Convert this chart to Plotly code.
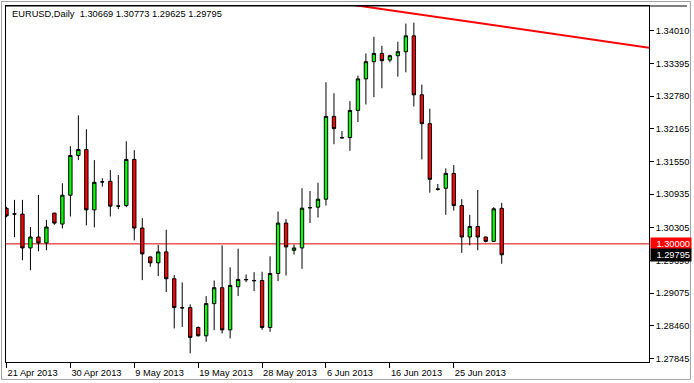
import plotly.graph_objects as go

# ---- data ----
dates = ["21 Apr 2013", "30 Apr 2013", "9 May 2013", "19 May 2013",
         "28 May 2013", "6 Jun 2013", "16 Jun 2013", "25 Jun 2013"]
date_pos = [0, 8, 16, 24, 32, 40, 48, 56]

opens = [1.30668, 1.30566, 1.30560, 1.29923, 1.30129, 1.30017, 1.30579, 1.30373,
         1.30916, 1.31664, 1.31777, 1.30640, 1.31170, 1.31178, 1.30715, 1.30721,
         1.31590, 1.30298, 1.29755, 1.29643, 1.29849, 1.29343, 1.28800, 1.28800,
         1.28426, 1.28269, 1.28875, 1.29175, 1.28381, 1.29193, 1.29330, 1.29311,
         1.29311, 1.28426, 1.29442, 1.30391, 1.29879, 1.29923, 1.30684, 1.30691,
         1.30841, 1.32400, 1.32001, 1.32001, 1.32512, 1.33106, 1.33430, 1.33585,
         1.33461, 1.33542, 1.33617, 1.33916, 1.32806, 1.32263, 1.31034, 1.31047,
         1.31327, 1.30721, 1.30129, 1.30328, 1.30129, 1.30047, 1.30669]
highs = [1.30697, 1.30828, 1.30828, 1.30317, 1.30921, 1.30453, 1.30585, 1.31140,
         1.31839, 1.32419, 1.32157, 1.31576, 1.31234, 1.31389, 1.31296, 1.31932,
         1.31764, 1.30485, 1.29760, 1.29980, 1.30266, 1.29411, 1.29274, 1.28862,
         1.28445, 1.29017, 1.29311, 1.29972, 1.29560, 1.29910, 1.29424, 1.29467,
         1.29474, 1.29766, 1.30609, 1.30466, 1.29985, 1.31047, 1.30996, 1.31151,
         1.33042, 1.32836, 1.32125, 1.32687, 1.33168, 1.33585, 1.33898, 1.33729,
         1.33561, 1.33804, 1.34147, 1.34165, 1.32999, 1.32544, 1.31127, 1.31421,
         1.31483, 1.30841, 1.30547, 1.31015, 1.30135, 1.30691, 1.30773]
lows = [1.30500, 1.30126, 1.29691, 1.29504, 1.29860, 1.29879, 1.30360, 1.30290,
        1.30515, 1.31576, 1.30347, 1.30309, 1.31077, 1.30515, 1.30653, 1.30691,
        1.30066, 1.29317, 1.29568, 1.29392, 1.29092, 1.28407, 1.28437, 1.27939,
        1.28257, 1.28156, 1.28375, 1.28314, 1.28220, 1.29017, 1.29280, 1.29111,
        1.28381, 1.28344, 1.29298, 1.29405, 1.29798, 1.29530, 1.30391, 1.30496,
        1.30721, 1.31876, 1.31983, 1.31751, 1.32293, 1.32625, 1.32761, 1.32930,
        1.33417, 1.33149, 1.33229, 1.32587, 1.31590, 1.30964, 1.31002, 1.30547,
        1.30627, 1.29830, 1.29972, 1.29879, 1.30028, 1.30036, 1.29625]
closes = [1.30528, 1.30560, 1.29923, 1.30129, 1.30017, 1.30317, 1.30391, 1.30916,
          1.31664, 1.31777, 1.30640, 1.31159, 1.31165, 1.30710, 1.30710, 1.31590,
          1.30298, 1.29811, 1.29643, 1.29849, 1.29343, 1.28800, 1.28795, 1.28239,
          1.28269, 1.28875, 1.29175, 1.28381, 1.29218, 1.29330, 1.29325, 1.29306,
          1.28426, 1.29442, 1.30391, 1.29942, 1.29923, 1.30672, 1.30679, 1.30841,
          1.32400, 1.32170, 1.31996, 1.32512, 1.33106, 1.33430, 1.33585, 1.33448,
          1.33542, 1.33617, 1.33916, 1.32806, 1.32263, 1.31215, 1.31029, 1.31327,
          1.30721, 1.30129, 1.30328, 1.30129, 1.30047, 1.30660, 1.29795]
bar_index = list(range(len(opens)))

y_ticks = [1.34010, 1.33395, 1.32780, 1.32165, 1.31550, 1.30935,
           1.30305, 1.29690, 1.29075, 1.28460, 1.27845]
y_ticktext = ["%.5f" % v for v in y_ticks]

level_price = 1.30000
bid_price = 1.29795
trend_x = [40, 82]
trend_y = [1.34572, 1.33659]

title_text = "EURUSD,Daily  1.30669 1.30773 1.29625 1.29795"

FONT = "Liberation Sans, Arial, sans-serif"
FS = 9.3

fig = go.Figure()
fig.add_trace(go.Candlestick(
    x=bar_index, open=opens, high=highs, low=lows, close=closes,
    increasing=dict(line=dict(color="black", width=1), fillcolor="#00ff00"),
    decreasing=dict(line=dict(color="black", width=1), fillcolor="#ff0000"),
    whiskerwidth=0, showlegend=False, hoverinfo="skip",
))
fig.add_trace(go.Scatter(
    x=trend_x, y=trend_y, mode="lines",
    line=dict(color="#ff0000", width=2), showlegend=False, hoverinfo="skip",
))

W, H = 694, 383
ML, MR, MT, MB = 5, 45, 5, 20
pw, ph = W - ML - MR, H - MT - MB


def px_x(p):
    return (p - ML) / pw


def px_y(p):
    return (H - MB - p) / ph


shapes = [
    # level line at 1.30000
    dict(type="line", xref="paper", yref="y", x0=0, x1=1, y0=level_price, y1=level_price,
         line=dict(color="#e00000", width=1), layer="below"),
    # outer window frame
    dict(type="rect", xref="paper", yref="paper", x0=px_x(0.5), x1=px_x(690.5),
         y0=px_y(380.5), y1=px_y(0.5), line=dict(color="#a0a0a0", width=1)),
    # top line spanning price scale
    dict(type="line", xref="paper", yref="paper", x0=0, x1=px_x(687), y0=1, y1=1,
         line=dict(color="black", width=1)),
]

annotations = [
    dict(text=title_text, xref="paper", yref="paper", x=px_x(9), y=px_y(13),
         xanchor="left", yanchor="middle", showarrow=False,
         font=dict(family=FONT, size=FS, color="black")),
    dict(text="%.5f" % level_price, xref="paper", yref="y", x=1, y=level_price,
         xanchor="left", yanchor="middle", xshift=1, showarrow=False,
         width=38, height=9, borderpad=1, bgcolor="#ff0000", align="right",
         font=dict(family=FONT, size=FS, color="white")),
    dict(text="%.5f" % bid_price, xref="paper", yref="y", x=1, y=bid_price,
         xanchor="left", yanchor="middle", xshift=1, showarrow=False,
         width=38, height=10, borderpad=1, bgcolor="black", align="right",
         font=dict(family=FONT, size=FS, color="white")),
]

fig.update_layout(
    width=W, height=H,
    margin=dict(l=ML, r=MR, t=MT, b=MB, pad=0),
    paper_bgcolor="white", plot_bgcolor="white",
    boxgap=0.4,
    showlegend=False,
    hovermode=False,
    shapes=shapes, annotations=annotations,
    font=dict(family=FONT, size=FS, color="black"),
    xaxis=dict(
        range=[-0.06, 80.44], rangeslider=dict(visible=False),
        showgrid=False, zeroline=False,
        showline=True, linecolor="black", linewidth=1, mirror=True,
        tickmode="array", tickvals=date_pos, ticktext=dates,
        ticks="outside", ticklen=5, tickcolor="black", tickwidth=1,
        ticklabelposition="outside right", ticklabelstandoff=2,
        tickfont=dict(family=FONT, size=FS, color="black"),
    ),
    yaxis=dict(
        range=[1.27776, 1.34478], side="right",
        showgrid=False, zeroline=False,
        showline=True, linecolor="black", linewidth=1, mirror=True,
        tickmode="array", tickvals=y_ticks, ticktext=y_ticktext,
        ticks="outside", ticklen=4, tickcolor="black", tickwidth=1,
        tickfont=dict(family=FONT, size=FS, color="black"),
    ),
)

fig.write_html(
    "out.html",
    config={"displayModeBar": False, "staticPlot": True},
    post_script="document.body.style.margin='0';document.body.style.overflow='hidden';",
)
